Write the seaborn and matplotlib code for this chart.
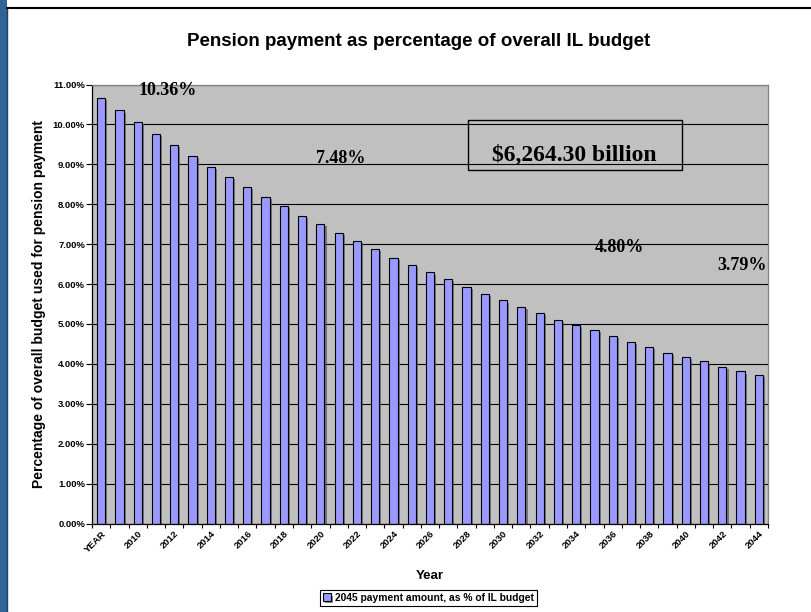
import pandas as pd
import seaborn as sns
import matplotlib.pyplot as plt
from matplotlib import patheffects
from matplotlib.patches import Rectangle
from matplotlib.lines import Line2D
from matplotlib.ticker import FuncFormatter, FixedLocator

# data (percent of IL budget)
years = ["YEAR"] + [str(y) for y in range(2009, 2045)]
pct = [10.67, 10.35, 10.06, 9.77, 9.48, 9.22, 8.93, 8.68, 8.43, 8.18,
       7.96, 7.71, 7.51, 7.28, 7.08, 6.87, 6.66, 6.48, 6.29, 6.12,
       5.93, 5.76, 5.59, 5.43, 5.28, 5.11, 4.98, 4.85, 4.71, 4.56,
       4.42, 4.28, 4.18, 4.06, 3.93, 3.81, 3.72]
tick_labels = [y if i % 2 == 0 else "" for i, y in enumerate(years)]
series_name = "2045 payment amount, as % of IL budget"

# callouts: (text, category position, value)
notes = [("10.36%", 3.64, 10.74),
         ("7.48%", 13.14, 9.04),
         ("4.80%", 28.39, 6.81),
         ("3.79%", 35.08, 6.34)]
total_text = "$6,264.30 billion"

df = pd.DataFrame({"Year": years, "pct": pct})

sns.set_style("white")
plt.rcParams['font.family'] = ['Liberation Sans', 'DejaVu Sans']
plt.rcParams['text.color'] = 'black'
plt.rcParams['axes.labelcolor'] = 'black'
plt.rcParams['xtick.color'] = 'black'
plt.rcParams['ytick.color'] = 'black'

fig = plt.figure(figsize=(8.12, 6.12), dpi=100)
ax = fig.add_axes([0.1133, 0.1446, 0.8325, 0.7173])

ax.set_facecolor('#C0C0C0')
sns.barplot(data=df, x="Year", y="pct", color='#9999FF', saturation=1,
            edgecolor='black', linewidth=0.8, width=0.45, ax=ax,
            label=series_name)

for bar in ax.patches:
    bar.set_path_effects([
        patheffects.SimplePatchShadow(offset=(1.5, -1.5), shadow_rgbFace='#555555', alpha=0.7),
        patheffects.Normal()])

ax.set_ylim(0, 11)
ax.set_xlim(-0.5, len(years) - 0.5)
ax.set_yticks(range(0, 12))
ax.yaxis.set_major_formatter(FuncFormatter(lambda v, p: f"{v:.2f}%"))
ax.yaxis.grid(True, color='black', linewidth=0.8)
ax.set_axisbelow(True)

ax.set_xticks(range(len(years)))
ax.set_xticklabels(tick_labels, rotation=45, ha='right', rotation_mode='anchor',
                   fontsize=6.8, fontweight='bold')
ax.xaxis.set_minor_locator(FixedLocator([i - 0.5 for i in range(len(years) + 1)]))
ax.tick_params(axis='x', which='major', length=0, pad=4)
ax.tick_params(axis='x', which='minor', length=3, width=0.8, color='black', direction='out', bottom=True)
ax.tick_params(axis='y', which='major', length=4, width=0.8, color='black', direction='out',
               left=True, labelsize=6.8, pad=1)
for lab in ax.get_yticklabels():
    lab.set_fontweight('bold')

for side in ['left', 'bottom']:
    ax.spines[side].set_color('black')
    ax.spines[side].set_linewidth(0.9)
for side in ['top', 'right']:
    ax.spines[side].set_color('#808080')
    ax.spines[side].set_linewidth(0.9)

ax.set_xlabel("Year", fontsize=9.5, fontweight='bold')
ax.set_ylabel("Percentage of overall budget used for pension payment", fontsize=10,
              fontweight='bold')
ax.xaxis.set_label_coords(0.5, -0.106)
ax.yaxis.set_label_coords(-0.0685, 0.5)

fig.text(0.515, 0.932, "Pension payment as percentage of overall IL budget",
         ha='center', va='center', fontsize=13.5, fontweight='bold')

for txt, xpos, ypos in notes:
    ax.text(xpos, ypos, txt, ha='center', va='baseline', fontsize=13,
            fontweight='bold', family=['Liberation Serif', 'DejaVu Serif'])
ax.text(25.88, 9.09, total_text, ha='center', va='baseline', fontsize=17,
        fontweight='bold', family=['Liberation Serif', 'DejaVu Serif'])
ax.add_patch(Rectangle((0.5556, 0.8046), 0.3178, 0.1144, transform=ax.transAxes,
                       fill=False, edgecolor='black', linewidth=1.0, zorder=5))

leg = fig.legend(loc='center', bbox_to_anchor=(0.528, 0.0229),
                 prop={'weight': 'bold', 'size': 7.4}, frameon=True, fancybox=False,
                 edgecolor='black', framealpha=1, handlelength=0.8, handleheight=0.8,
                 handletextpad=0.4, borderpad=0.3, borderaxespad=0)
leg.get_frame().set_linewidth(0.8)
if ax.get_legend() is not None:
    ax.get_legend().remove()

# page frame: blue strip at the left and a rule at the top
fig.patches.append(Rectangle((0, 0), 0.0086, 1, transform=fig.transFigure,
                             facecolor='#2F6496', edgecolor='none'))
fig.lines.append(Line2D([0.0086, 0.0086], [0, 0.987], transform=fig.transFigure,
                        color='#1F3F60', linewidth=1.0))
fig.lines.append(Line2D([0.0086, 1], [0.987, 0.987], transform=fig.transFigure,
                        color='black', linewidth=1.5))

fig.savefig("out.png", dpi=100)
